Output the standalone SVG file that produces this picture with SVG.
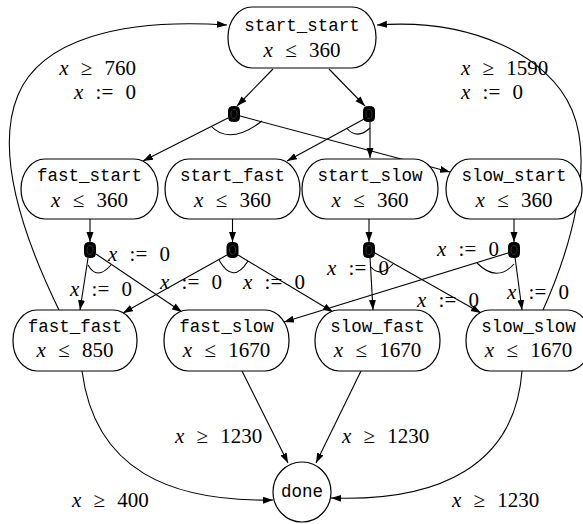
<svg xmlns="http://www.w3.org/2000/svg" width="583" height="524" viewBox="0 0 583 524">
<style>
.nd{fill:#fff;stroke:#000;stroke-width:1.2}
.jn{fill:#000;stroke:#000;stroke-width:1}
.jo{fill:none;stroke:#3a3a3a;stroke-width:0.9}
.name{font-family:"Liberation Mono","DejaVu Sans Mono",monospace;font-size:17.5px;text-anchor:middle;fill:#000}
.math{font-family:"Liberation Serif","DejaVu Serif",serif;font-size:21px;word-spacing:7px;fill:#000}
.mid{text-anchor:middle}
.end{text-anchor:end}
.v{font-style:italic}
.e{fill:none;stroke:#000;stroke-width:1.1;marker-end:url(#ah)}
.arc{fill:none;stroke:#000;stroke-width:1.1}
</style>
<defs>
<marker id="ah" markerUnits="userSpaceOnUse" markerWidth="11" markerHeight="8" refX="10" refY="3.5" orient="auto">
<path d="M0,0 L10,3.5 L0,7 z" fill="#000"/>
</marker>
</defs>

<g id="connectors">
<path class="e" d="M273,69 L237,106"/>
<path class="e" d="M329,69 L365,106"/>
<path class="e" d="M228,118 L143,161"/>
<path class="e" d="M240,116 L450,172"/>
<path class="e" d="M366,118 L287,161"/>
<path class="e" d="M370,122 L370,158"/>
<path class="arc" d="M211,126 C220,136 236,141 262,121"/>
<path class="arc" d="M347,128.5 Q357,140 370,128"/>
<path class="e" d="M90,219 L90,242"/>
<path class="e" d="M232.5,219 L232.5,242"/>
<path class="e" d="M369,219 L369,242"/>
<path class="e" d="M514,219 L514,242"/>
<path class="e" d="M88,258 L80,310"/>
<path class="e" d="M96,254 L182,312"/>
<path class="arc" d="M88,265 Q97,281 111,265"/>
<path class="e" d="M227,255 L123,313"/>
<path class="e" d="M238,255 L333,312"/>
<path class="arc" d="M219,260 Q233,285 248,261"/>
<path class="e" d="M370,257 L373,310"/>
<path class="e" d="M375,253 L481,313"/>
<path class="arc" d="M371,267 Q380,278 393,264"/>
<path class="e" d="M508,253 L284,322"/>
<path class="e" d="M515,257 L522,310"/>
<path class="arc" d="M477,263 Q497,283 514,264"/>
<path class="e" d="M59,310 C20,230 -5,150 18,95 C41,40 120,18 227,25"/>
<path class="e" d="M543,310 C570,250 595,165 572,110 C549,55 470,18 377,25"/>
<path class="e" d="M82,371 C95,470 170,502 273,500"/>
<path class="e" d="M522,371 C515,465 440,502 331,498"/>
<path class="e" d="M242,371 L288,463"/>
<path class="e" d="M361,371 L316,463"/>
</g>

<g id="labels">
<text class="math end" x="136" y="75"><tspan class="v">x</tspan> ≥ 760</text>
<text class="math end" x="136" y="99"><tspan class="v">x</tspan> := 0</text>
<text class="math" x="461" y="75"><tspan class="v">x</tspan> ≥ 1590</text>
<text class="math" x="461" y="99"><tspan class="v">x</tspan> := 0</text>
<text class="math" x="108" y="261"><tspan class="v">x</tspan> := 0</text>
<text class="math" x="70" y="296"><tspan class="v">x</tspan> := 0</text>
<text class="math" x="160" y="289"><tspan class="v">x</tspan> := 0</text>
<text class="math" x="243" y="289"><tspan class="v">x</tspan> := 0</text>
<text class="math" x="327" y="275"><tspan class="v">x</tspan> := 0</text>
<text class="math" x="437" y="256"><tspan class="v">x</tspan> := 0</text>
<text class="math" x="507" y="299"><tspan class="v">x</tspan> := 0</text>
<text class="math" x="417" y="307"><tspan class="v">x</tspan> := 0</text>
<text class="math" x="175" y="443"><tspan class="v">x</tspan> ≥ 1230</text>
<text class="math" x="342" y="443"><tspan class="v">x</tspan> ≥ 1230</text>
<text class="math" x="72" y="507"><tspan class="v">x</tspan> ≥ 400</text>
<text class="math" x="452" y="507"><tspan class="v">x</tspan> ≥ 1230</text>
</g>

<g id="start_start">
<rect class="nd" x="228" y="7" width="148" height="61" rx="24" ry="30"/>
<text class="name" x="302" y="30.5">start_start</text>
<text class="math mid" x="302" y="56.5"><tspan class="v">x</tspan> ≤ 360</text>
</g>
<g id="j1"><rect class="jn" x="228.5" y="106.5" width="11" height="15" rx="4"/><ellipse class="jo" cx="234" cy="114" rx="3" ry="4.5"/></g>
<g id="j2"><rect class="jn" x="363.5" y="106.5" width="11" height="15" rx="4"/><ellipse class="jo" cx="369" cy="114" rx="3" ry="4.5"/></g>

<g id="fast_start">
<rect class="nd" x="21" y="159" width="137" height="60" rx="24" ry="30"/>
<text class="name" x="89.5" y="181">fast_start</text>
<text class="math mid" x="89.5" y="207"><tspan class="v">x</tspan> ≤ 360</text>
</g>
<g id="start_fast">
<rect class="nd" x="165" y="159" width="135" height="60" rx="24" ry="30"/>
<text class="name" x="232.5" y="181">start_fast</text>
<text class="math mid" x="232.5" y="207"><tspan class="v">x</tspan> ≤ 360</text>
</g>
<g id="start_slow">
<rect class="nd" x="302" y="159" width="136" height="60" rx="24" ry="30"/>
<text class="name" x="370" y="181">start_slow</text>
<text class="math mid" x="370" y="207"><tspan class="v">x</tspan> ≤ 360</text>
</g>
<g id="slow_start">
<rect class="nd" x="446" y="159" width="136" height="60" rx="24" ry="30"/>
<text class="name" x="514" y="181">slow_start</text>
<text class="math mid" x="514" y="207"><tspan class="v">x</tspan> ≤ 360</text>
</g>

<g id="j3"><rect class="jn" x="84.5" y="242.5" width="11" height="15" rx="4"/><ellipse class="jo" cx="90" cy="250" rx="3" ry="4.5"/></g>
<g id="j4"><rect class="jn" x="227" y="242.5" width="11" height="15" rx="4"/><ellipse class="jo" cx="232.5" cy="250" rx="3" ry="4.5"/></g>
<g id="j5"><rect class="jn" x="363.5" y="242.5" width="11" height="15" rx="4"/><ellipse class="jo" cx="369" cy="250" rx="3" ry="4.5"/></g>
<g id="j6"><rect class="jn" x="508.5" y="242.5" width="11" height="15" rx="4"/><ellipse class="jo" cx="514" cy="250" rx="3" ry="4.5"/></g>

<g id="fast_fast">
<rect class="nd" x="13" y="310" width="124" height="61" rx="24" ry="30"/>
<text class="name" x="75" y="332">fast_fast</text>
<text class="math mid" x="75" y="357"><tspan class="v">x</tspan> ≤ 850</text>
</g>
<g id="fast_slow">
<rect class="nd" x="164" y="310" width="125" height="61" rx="24" ry="30"/>
<text class="name" x="226.5" y="332">fast_slow</text>
<text class="math mid" x="226.5" y="357"><tspan class="v">x</tspan> ≤ 1670</text>
</g>
<g id="slow_fast">
<rect class="nd" x="315" y="310" width="125" height="61" rx="24" ry="30"/>
<text class="name" x="377.5" y="332">slow_fast</text>
<text class="math mid" x="377.5" y="357"><tspan class="v">x</tspan> ≤ 1670</text>
</g>
<g id="slow_slow">
<rect class="nd" x="466" y="310" width="125" height="61" rx="24" ry="30"/>
<text class="name" x="528.5" y="332">slow_slow</text>
<text class="math mid" x="528.5" y="357"><tspan class="v">x</tspan> ≤ 1670</text>
</g>

<g id="done">
<ellipse class="nd" cx="302" cy="492" rx="29" ry="30"/>
<text class="name" x="302" y="497">done</text>
</g>
</svg>
